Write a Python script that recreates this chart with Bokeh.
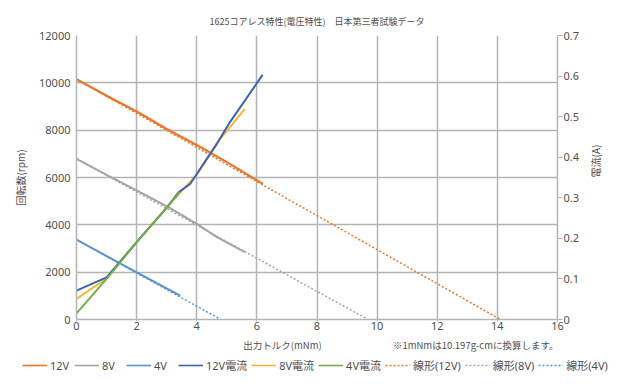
from math import pi
from bokeh.plotting import figure
from bokeh.layouts import column
from bokeh.models import Range1d, LinearAxis, Legend, LegendItem, FixedTicker, Label
from bokeh.embed import file_html
from bokeh.resources import INLINE

# ---------------- data ----------------
title_text = "1625コアレス特性(電圧特性)　日本第三者試験データ"
x_label = "出力トルク(mNm)"
note_text = "※1mNmは10.197g-cmに換算します。"
y_label = "回転数(rpm)"
y2_label = "電流(A)"

x_ticks = [0, 2, 4, 6, 8, 10, 12, 14, 16]
rpm_ticks = [0, 2000, 4000, 6000, 8000, 10000, 12000]
amp_ticks = [0, 0.1, 0.2, 0.3, 0.4, 0.5, 0.6, 0.7]

# speed (rpm) vs torque (mNm)
torque_12v = [0, 1.05, 2.05, 3.0, 4.15, 5.2, 6.2]
rpm_12v = [10150, 9420, 8760, 8050, 7270, 6500, 5730]
torque_8v = [0, 1.05, 2.05, 3.1, 4.0, 4.67, 5.6]
rpm_8v = [6790, 6080, 5420, 4720, 4040, 3480, 2850]
torque_4v = [0, 1.05, 2.05, 3.45]
rpm_4v = [3370, 2650, 1960, 1010]

# current (A) vs torque (mNm)
torque_12v_a = [0, 1.0, 2.05, 3.0, 3.4, 3.78, 4.67, 5.1, 6.19]
amp_12v = [0.071, 0.104, 0.195, 0.275, 0.314, 0.334, 0.433, 0.486, 0.603]
torque_8v_a = [0, 1.0, 2.05, 3.1, 4.0, 4.67, 5.6]
amp_8v = [0.051, 0.101, 0.195, 0.285, 0.357, 0.435, 0.519]
torque_4v_a = [0, 1.0, 2.05, 3.0, 3.45]
amp_4v = [0.015, 0.1, 0.195, 0.275, 0.315]

# linear trend lines (rpm)
trend_12v_x = [0, 14.1]
trend_12v_y = [10150, 0]
trend_8v_x = [0, 9.7]
trend_8v_y = [6790, 0]
trend_4v_x = [0, 4.8]
trend_4v_y = [3370, 0]

labels = ["12V", "8V", "4V", "12V電流", "8V電流", "4V電流", "線形(12V)", "線形(8V)", "線形(4V)"]

# ---------------- style ----------------
C12 = "#E8772E"
C8 = "#A5A5A5"
C4 = "#5B93CF"
C12A = "#3F62AC"
C8A = "#F5B73B"
C4A = "#73AE48"
GRID = "#B4B4B4"
TXT = "#505050"
LAT = "'Noto Sans', 'Noto Sans CJK JP', sans-serif"
JP = "'Noto Sans CJK JP', sans-serif"
DOT = "2 2"

p = figure(width=632, height=336, output_backend="svg", toolbar_location=None,
           x_range=Range1d(0, 16), y_range=Range1d(0, 12000),
           min_border_left=76, min_border_right=75, min_border_top=35, min_border_bottom=17)
p.frame_align = False
p.extra_y_ranges = {"amp": Range1d(0, 0.7)}
p.outline_line_color = None
p.background_fill_color = "white"
p.border_fill_color = "white"

p.title.text = title_text
p.title.align = "center"
p.title.text_font = JP
p.title.text_font_size = "9px"
p.title.text_font_style = "normal"
p.title.text_color = TXT
p.title.standoff = 15

# axes
for ax in (p.xaxis[0], p.yaxis[0]):
    ax.axis_line_color = GRID
    ax.axis_line_width = 1.5
    ax.minor_tick_line_color = None
    ax.major_label_text_font = LAT
    ax.major_label_text_font_size = "11px"
    ax.major_label_text_color = TXT

p.xaxis.ticker = FixedTicker(ticks=x_ticks)
p.xaxis.major_tick_out = 2
p.xaxis.major_tick_in = 0
p.xaxis.major_tick_line_color = GRID
p.xaxis.major_label_standoff = 0

p.yaxis.ticker = FixedTicker(ticks=rpm_ticks)
p.yaxis.major_tick_out = 0
p.yaxis.major_tick_in = 0
p.yaxis.major_label_standoff = 6
p.yaxis.axis_label = y_label
p.yaxis.axis_label_standoff = 8
p.yaxis.axis_label_text_font = JP
p.yaxis.axis_label_text_font_size = "10px"
p.yaxis.axis_label_text_font_style = "normal"
p.yaxis.axis_label_text_color = TXT

rax = LinearAxis(y_range_name="amp", ticker=FixedTicker(ticks=amp_ticks))
rax.axis_line_color = GRID
rax.axis_line_width = 1.5
rax.minor_tick_line_color = None
rax.major_tick_out = 5
rax.major_tick_in = 0
rax.major_tick_line_color = GRID
rax.major_label_standoff = 1
rax.major_label_text_font = LAT
rax.major_label_text_font_size = "11px"
rax.major_label_text_color = TXT
rax.major_label_overrides = {0: "0"}
rax.axis_label = y2_label
rax.axis_label_standoff = 13
rax.axis_label_orientation = pi / 2
rax.axis_label_text_font = JP
rax.axis_label_text_font_size = "10px"
rax.axis_label_text_font_style = "normal"
rax.axis_label_text_color = TXT
p.add_layout(rax, "right")

p.xgrid.ticker = FixedTicker(ticks=x_ticks)
p.ygrid.ticker = FixedTicker(ticks=rpm_ticks)
for g in (p.xgrid[0], p.ygrid[0]):
    g.grid_line_color = GRID
    g.grid_line_width = 1.5

# trend lines
p.line(trend_12v_x, trend_12v_y, line_color=C12, line_width=1.5, line_dash=DOT)
p.line(trend_8v_x, trend_8v_y, line_color=C8, line_width=1.5, line_dash=DOT)
p.line(trend_4v_x, trend_4v_y, line_color=C4, line_width=1.5, line_dash=DOT)

# speed lines
p.line(torque_12v, rpm_12v, line_color=C12, line_width=2.2)
p.line(torque_8v, rpm_8v, line_color=C8, line_width=2)
p.line(torque_4v, rpm_4v, line_color=C4, line_width=2)

# current lines
p.line(torque_8v_a, amp_8v, line_color=C8A, line_width=2, y_range_name="amp")
p.line(torque_12v_a, amp_12v, line_color=C12A, line_width=2, y_range_name="amp")
p.line(torque_4v_a, amp_4v, line_color=C4A, line_width=2, y_range_name="amp")

# ---------------- footer: x label, note, legend ----------------
f = figure(width=632, height=54, output_backend="svg", toolbar_location=None,
           x_range=Range1d(0, 632), y_range=Range1d(0, 54),
           x_axis_type=None, y_axis_type=None,
           min_border_left=0, min_border_right=0, min_border_top=0, min_border_bottom=0)
f.frame_align = False
f.outline_line_color = None
f.xgrid.visible = False
f.ygrid.visible = False
f.background_fill_color = "white"
f.border_fill_color = "white"

f.add_layout(Label(x=282, y=45.5, text=x_label, text_align="center", text_baseline="middle",
                   text_font=JP, text_font_size="9.5px", text_color=TXT))
f.add_layout(Label(x=558, y=45.5, text=note_text, text_align="right", text_baseline="middle",
                   text_font=JP, text_font_size="9.5px", text_color=TXT))

styles = [(C12, 1.6, "solid"), (C8, 1.6, "solid"), (C4, 1.6, "solid"),
          (C12A, 1.6, "solid"), (C8A, 1.6, "solid"), (C4A, 1.6, "solid"),
          (C12, 1.4, DOT), (C8, 1.4, DOT), (C4, 1.4, DOT)]
nan = float("nan")
items = []
for lab, (c, w, d) in zip(labels, styles):
    r = f.line([nan], [nan], line_color=c, line_width=w, line_dash=d)
    items.append(LegendItem(label=lab, renderers=[r]))
legend = Legend(items=items, orientation="horizontal", location=(22, 17),
                glyph_width=25, glyph_height=12, label_height=12, label_standoff=3,
                spacing=4, padding=0, margin=0, border_line_color=None,
                background_fill_alpha=0, label_text_font=LAT,
                label_text_font_size="11px", label_text_color=TXT)
f.add_layout(legend)

layout = column(p, f, spacing=0)
open("out.html", "w").write(file_html(layout, INLINE))
